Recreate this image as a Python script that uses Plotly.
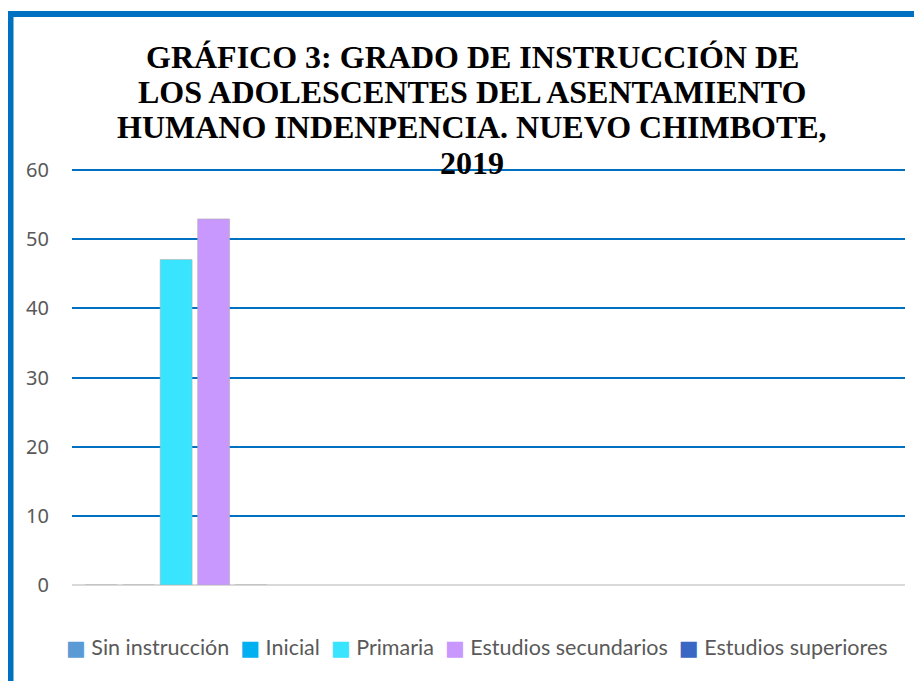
import plotly.graph_objects as go

series_names = ["Sin instrucción", "Inicial", "Primaria", "Estudios secundarios", "Estudios superiores"]
series_values = [0, 0, 47.06, 52.94, 0]
series_colors = ["#5B9BD5", "#00B0F0", "#38E4FE", "#C998FF", "#3A66C4"]
category_positions = [0]
y_ticks = [0, 10, 20, 30, 40, 50, 60]
title_lines = ["GRÁFICO 3: GRADO DE INSTRUCCIÓN DE",
               "LOS ADOLESCENTES DEL ASENTAMIENTO",
               "HUMANO INDENPENCIA. NUEVO CHIMBOTE,",
               "2019"]

fig = go.Figure()
for name, val, col in zip(series_names, series_values, series_colors):
    fig.add_trace(go.Bar(
        x=category_positions, y=[val], name=name,
        marker=dict(color=col, line=dict(color="rgba(175,175,175,0.6)", width=1)),
        hoverinfo="name+y",
    ))

W, H = 922, 681
L, R, T, B = 64, 25, 160, 104
pw, ph = W - L - R, H - T - B

def px_x(px):
    return (px - L) / pw

def px_y(py):
    return (H - B - py) / ph

fig.update_layout(
    width=W, height=H,
    margin=dict(l=L, r=R, t=T, b=B, pad=0),
    paper_bgcolor="white", plot_bgcolor="white",
    barmode="group", bargap=0.1, bargroupgap=0.15,
    showlegend=False,
    xaxis=dict(range=[-0.5, 3.5], showticklabels=False, showgrid=False, zeroline=False,
               showline=False, fixedrange=True),
    yaxis=dict(range=[0, 60.3], tickvals=y_ticks, showgrid=True, gridcolor="#0070C0", gridwidth=2,
               zeroline=True, zerolinecolor="#D9D9D9", zerolinewidth=2, showline=False,
               ticks="", ticklabelstandoff=22,
               tickfont=dict(family="Noto Sans", size=20, color="#595959")),
)

line_y = [48.5, 84, 119.5, 155]
for txt, yy in zip(title_lines, line_y):
    fig.add_annotation(text="<b>" + txt + "</b>", xref="paper", yref="paper",
                       x=px_x(464), y=px_y(yy), xanchor="center", yanchor="middle",
                       showarrow=False,
                       font=dict(family="Liberation Serif", size=32, color="black"))

gap = "\u00a0\u00a0"
legend_parts = []
for name, col in zip(series_names, series_colors):
    legend_parts.append('<span style="color:%s;font-family:DejaVu Sans;font-size:21px">■</span>\u00a0%s' % (col, name))
legend_text = gap.join(legend_parts)
fig.add_annotation(text=legend_text, xref="paper", yref="paper",
                   x=px_x(468.5), y=px_y(639), xanchor="center", yanchor="middle",
                   showarrow=False,
                   font=dict(family="Lato", size=21.5, color="#595959"))

fig.add_shape(type="rect", xref="paper", yref="paper", layer="above",
              x0=px_x(2.5), x1=px_x(940), y0=px_y(700), y1=px_y(6),
              line=dict(color="#0070C0", width=6))

fig.write_html("out.html")
